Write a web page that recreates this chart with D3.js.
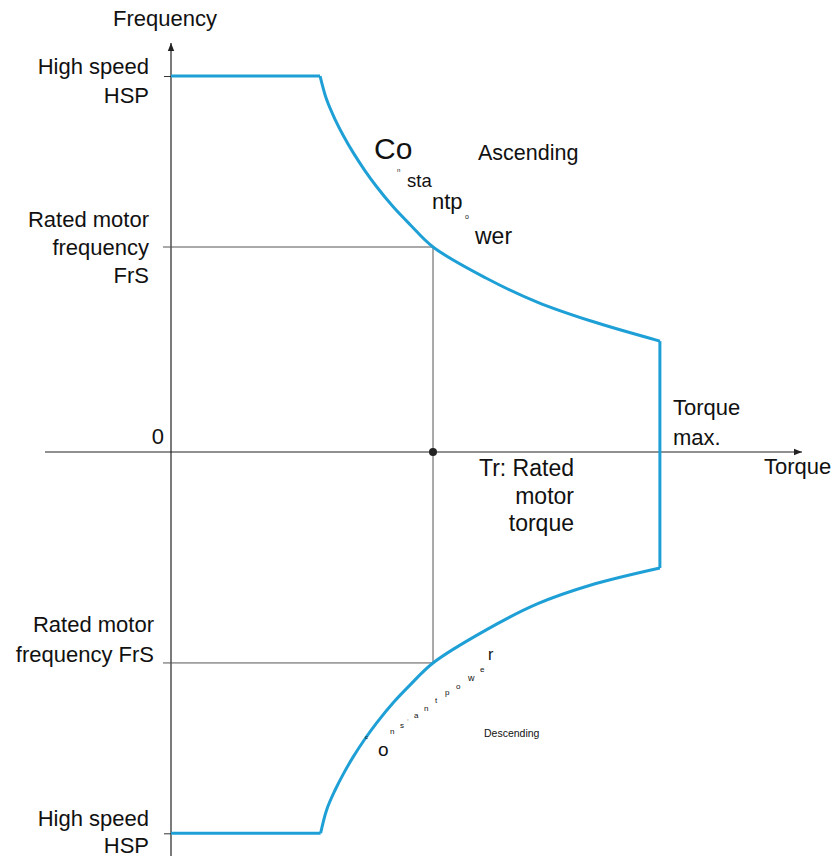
<!DOCTYPE html>
<html>
<head>
<meta charset="utf-8">
<script src="https://cdn.jsdelivr.net/npm/d3@7/dist/d3.min.js"></script>
<style>
  html, body { margin: 0; padding: 0; background: #fff; }
  svg { display: block; }
  text { font-family: "Liberation Sans", Arial, sans-serif; fill: #111; }
</style>
</head>
<body>
<svg id="chart" width="833" height="856"></svg>
<script>
// ---- data (torque in units of rated torque Tr, frequency in units of FrS) ----
const torqueTop    = [0, 0.569, 0.594, 0.626, 0.658, 0.696, 0.740, 0.785, 0.848, 0.912, 1.00, 1.20, 1.40, 1.60, 1.866];
const freqTop      = [1.834, 1.834, 1.719, 1.623, 1.543, 1.459, 1.373, 1.294, 1.196, 1.110, 1.00, 0.85, 0.73, 0.64, 0.541];
const torqueBottom = [0, 0.571, 0.594, 0.626, 0.658, 0.696, 0.740, 0.785, 0.848, 0.912, 1.00, 1.20, 1.40, 1.60, 1.866];
const freqBottom   = [-1.860, -1.860, -1.746, -1.650, -1.570, -1.486, -1.400, -1.321, -1.223, -1.137, -1.029, -0.87, -0.74, -0.65, -0.566];
const ratedTorque = 1.0;
const ratedFreqTop = 1.0;
const ratedFreqBottom = -1.029;
const hspTop = 1.834;
const hspBottom = -1.860;
const yTickValues = [hspTop, hspBottom];

// ---- layout ----
const svg = d3.select("#chart");
const x = d3.scaleLinear().domain([0, 1]).range([171, 433]);
const y = d3.scaleLinear().domain([0, 1]).range([452, 247]);
const blue = "#1ea0d6";

// arrow marker
const defs = svg.append("defs");
defs.append("marker").attr("id", "arr").attr("viewBox", "0 0 10 10")
  .attr("refX", 10).attr("refY", 5).attr("markerWidth", 10).attr("markerHeight", 8)
  .attr("markerUnits", "userSpaceOnUse").attr("orient", "auto")
  .append("path").attr("d", "M0,1 L10,5 L0,9 Z").attr("fill", "#222");

// axes lines
svg.append("line").attr("x1", 45).attr("x2", 802).attr("y1", y(0)).attr("y2", y(0))
  .attr("stroke", "#222").attr("stroke-width", 1.2).attr("marker-end", "url(#arr)");
svg.append("line").attr("x1", x(0)).attr("x2", x(0)).attr("y1", 856).attr("y2", 43)
  .attr("stroke", "#222").attr("stroke-width", 1.2).attr("marker-end", "url(#arr)");

// y ticks for HSP
const yAxis = d3.axisLeft(y).tickValues(yTickValues).tickSize(7).tickFormat("");
const gy = svg.append("g").attr("transform", `translate(${x(0)},0)`).call(yAxis);
gy.select(".domain").remove();
gy.selectAll(".tick line").attr("stroke", "#333");

// rated reference lines
const gray = "#555";
svg.append("line").attr("x1", x(0) - 8).attr("x2", x(ratedTorque))
  .attr("y1", y(ratedFreqTop)).attr("y2", y(ratedFreqTop)).attr("stroke", gray).attr("stroke-width", 1);
svg.append("line").attr("x1", x(0) - 8).attr("x2", x(ratedTorque))
  .attr("y1", y(ratedFreqBottom)).attr("y2", y(ratedFreqBottom)).attr("stroke", gray).attr("stroke-width", 1);
svg.append("line").attr("x1", x(ratedTorque)).attr("x2", x(ratedTorque))
  .attr("y1", y(ratedFreqTop)).attr("y2", y(ratedFreqBottom)).attr("stroke", gray).attr("stroke-width", 1);

// operating envelope
const straight = d3.line().x(d => x(d[0])).y(d => y(d[1]));
const curved = d3.line().x(d => x(d[0])).y(d => y(d[1])).curve(d3.curveCatmullRom.alpha(0.5));
const upperPts = torqueTop.map((t, i) => [t, freqTop[i]]);
const lowerPts = torqueBottom.map((t, i) => [t, freqBottom[i]]);
const env = svg.append("g").attr("fill", "none").attr("stroke", blue).attr("stroke-width", 3)
  .attr("stroke-linejoin", "round");
env.append("path").attr("d", straight(upperPts.slice(0, 2)));
env.append("path").attr("d", curved(upperPts.slice(1)));
env.append("path").attr("d", straight([upperPts[upperPts.length - 1], lowerPts[lowerPts.length - 1]]));
env.append("path").attr("d", curved(lowerPts.slice(1)));
env.append("path").attr("d", straight(lowerPts.slice(0, 2)));

// rated torque dot
svg.append("circle").attr("cx", x(ratedTorque)).attr("cy", y(0)).attr("r", 4).attr("fill", "#222");

// ---- texts ----
const F = 22;
function lines(arr, xp, y0, dy, anchor, size) {
  arr.forEach((s, i) => {
    svg.append("text").attr("x", xp).attr("y", y0 + i * dy).attr("text-anchor", anchor)
      .attr("font-size", size || F).text(s);
  });
}
lines(["Frequency"], 113, 26, 0, "start");
lines(["High speed", "HSP"], 149, 74, 29, "end");
lines(["Rated motor", "frequency", "FrS"], 149, 227, 28, "end");
lines(["0"], 164, 444, 0, "end");
lines(["Torque", "max."], 673, 415, 30, "start");
lines(["Torque"], 764, 474, 0, "start");
lines(["Tr: Rated", "motor", "torque"], 574, 476, 27.5, "end", 23);
lines(["Rated motor", "frequency FrS"], 154, 632, 30, "end");
lines(["High speed", "HSP"], 149, 826, 27, "end");
lines(["Ascending"], 478, 160, 0, "start", 21.5);
lines(["Descending"], 484, 737, 0, "start", 10.5);

// scattered "Constant power" letters (ascending)
const upLetters = [
  ["Co", 374, 159, 30], ["n", 397, 172, 6], ["sta", 407, 187, 18.5],
  ["ntp", 432, 209, 22], ["o", 465, 219, 7], ["wer", 475, 244, 23]
];
upLetters.forEach(d => svg.append("text").attr("x", d[1]).attr("y", d[2]).attr("font-size", d[3]).text(d[0]));

// scattered "constant power" letters (descending)
const downLetters = [
  ["c", 365, 739, 6], ["o", 378, 756, 19], ["n", 390, 734, 8], ["s", 400, 728, 8],
  [",", 407, 720, 6], ["a", 414, 718, 8], ["n", 424, 711, 8], ["t", 435, 703, 8],
  ["p", 445, 695, 8], ["o", 456, 689, 8], ["w", 468, 681, 9], ["e", 480, 672, 8],
  ["r", 488, 660, 16]
];
downLetters.forEach(d => svg.append("text").attr("x", d[1]).attr("y", d[2]).attr("font-size", d[3]).text(d[0]));
</script>
</body>
</html>
